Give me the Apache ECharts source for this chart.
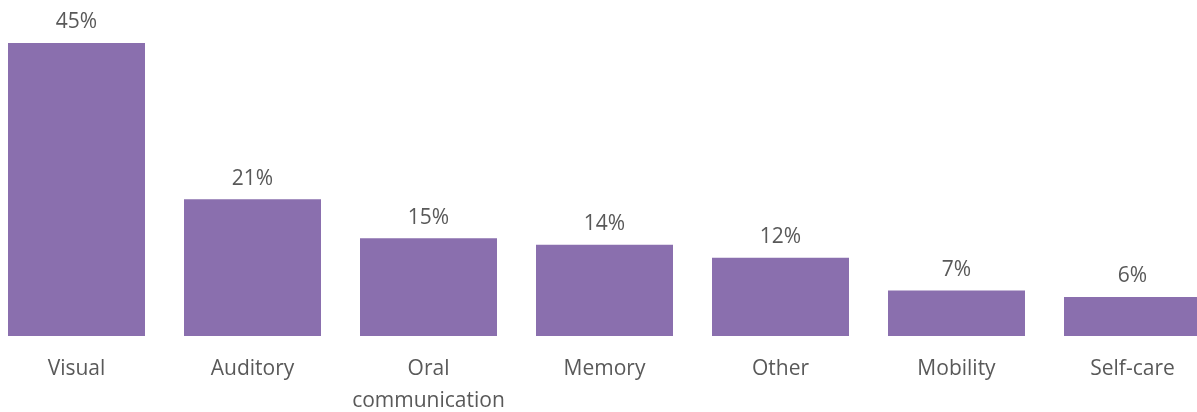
<!DOCTYPE html>
<html>
<head>
<meta charset="utf-8">
<script src="https://cdn.jsdelivr.net/npm/echarts@6/dist/echarts.min.js"></script>
<style>
  html, body { margin: 0; padding: 0; background: #ffffff; }
  #chart { width: 1197px; height: 412px; }
</style>
</head>
<body>
<div id="chart"></div>
<script>
// Share of respondents by type of difficulty
const categories = ['Visual', 'Auditory', 'Oral\ncommunication', 'Memory', 'Other', 'Mobility', 'Self-care'];
const shares = [45, 21, 15, 14, 12, 7, 6];

const textColor = '#595959';
const barColor = '#8a6fae';
const fontFamily = '"Open Sans", "Noto Sans", sans-serif';

const chart = echarts.init(document.getElementById('chart'), null, { renderer: 'canvas' });
chart.setOption({
  animation: false,
  grid: {
    left: -11.5, right: -23.5, top: 10.4, bottom: 76,
    containLabel: false,
    outerBoundsMode: 'none'
  },
  xAxis: {
    type: 'category',
    data: categories,
    axisLine: { show: false },
    axisTick: { show: false },
    axisLabel: {
      color: textColor,
      fontSize: 21,
      fontFamily: fontFamily,
      margin: 17,
      lineHeight: 32,
      interval: 0
    }
  },
  yAxis: {
    type: 'value',
    min: 0,
    max: 50,
    show: false,
    splitLine: { show: false }
  },
  series: [{
    type: 'bar',
    data: shares,
    barWidth: 137,
    itemStyle: { color: barColor },
    label: {
      show: true,
      position: 'top',
      distance: 10,
      color: textColor,
      fontSize: 21,
      fontFamily: fontFamily,
      formatter: p => p.value + '%'
    }
  }]
});
</script>
</body>
</html>
